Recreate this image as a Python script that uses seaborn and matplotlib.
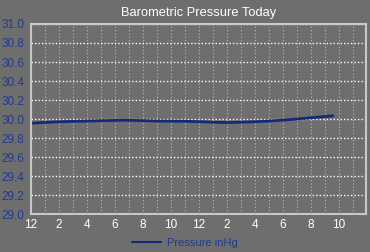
import matplotlib
matplotlib.use("Agg")
import matplotlib.pyplot as plt
import matplotlib.ticker as mticker
import seaborn as sns
import pandas as pd

hours = [0, 1, 2, 3, 4, 5, 6, 7, 8, 9, 10, 11, 12, 13, 14, 15, 16, 17, 18, 19, 20, 21, 21.6]
pressure = [29.958, 29.966, 29.973, 29.977, 29.980, 29.984, 29.988, 29.989, 29.985, 29.980,
            29.979, 29.978, 29.974, 29.968, 29.965, 29.968, 29.973, 29.980, 29.990, 30.002,
            30.015, 30.028, 30.035]
x_tick_pos = [0, 2, 4, 6, 8, 10, 12, 14, 16, 18, 20, 22]
x_tick_labels = ["12", "2", "4", "6", "8", "10", "12", "2", "4", "6", "8", "10"]
y_ticks = [29.0, 29.2, 29.4, 29.6, 29.8, 30.0, 30.2, 30.4, 30.6, 30.8, 31.0]

bg = "#6e6e6e"
line_c = "#14297a"
blue_txt = "#233a8e"

sns.set_style("dark")
plt.rcParams["font.family"] = ["Liberation Sans", "DejaVu Sans"]

df = pd.DataFrame({"hour": hours, "Pressure inHg": pressure})

fig = plt.figure(figsize=(3.7, 2.52), dpi=100, facecolor=bg)
ax = fig.add_axes([0.084, 0.149, 0.9065, 0.756])
ax.set_facecolor(bg)

sns.lineplot(data=df, x="hour", y="Pressure inHg", ax=ax, color=line_c, linewidth=2.0,
             label="Pressure inHg", legend=False)

ax.set_xlim(0, 24)
ax.set_ylim(29.0, 31.0)
ax.set_xticks(x_tick_pos)
ax.set_xticklabels(x_tick_labels)
ax.xaxis.set_minor_locator(mticker.MultipleLocator(1))
ax.set_yticks(y_ticks)
ax.yaxis.set_major_formatter(mticker.FormatStrFormatter("%.1f"))

ax.grid(True, which="both", axis="x", color="#d8d8d8", linestyle=(0, (1, 2)), linewidth=0.8, alpha=0.7)
ax.grid(True, which="major", axis="y", color="#ffffff", linestyle=(0, (1, 1.5)), linewidth=1.0)

ax.tick_params(axis="x", which="both", length=0, pad=3, labelsize=8.5, labelcolor="white")
ax.tick_params(axis="y", which="both", length=0, pad=5, labelsize=8.5, labelcolor=blue_txt)

for s in ax.spines.values():
    s.set_visible(True)
    s.set_color("#c8c8c8")
    s.set_linewidth(1.5)

ax.set_xlabel("")
ax.set_ylabel("")
ax.set_title("Barometric Pressure Today", color="white", fontsize=9.3, pad=6)

handles, labels = ax.get_legend_handles_labels()
leg = fig.legend(handles, labels, loc="lower center", bbox_to_anchor=(0.5, -0.025), frameon=False,
                 fontsize=8, labelcolor=blue_txt, handlelength=2.6, handletextpad=0.5)
for h in leg.get_lines():
    h.set_linewidth(1.5)

fig.savefig("out.png", dpi=100, facecolor=bg)
